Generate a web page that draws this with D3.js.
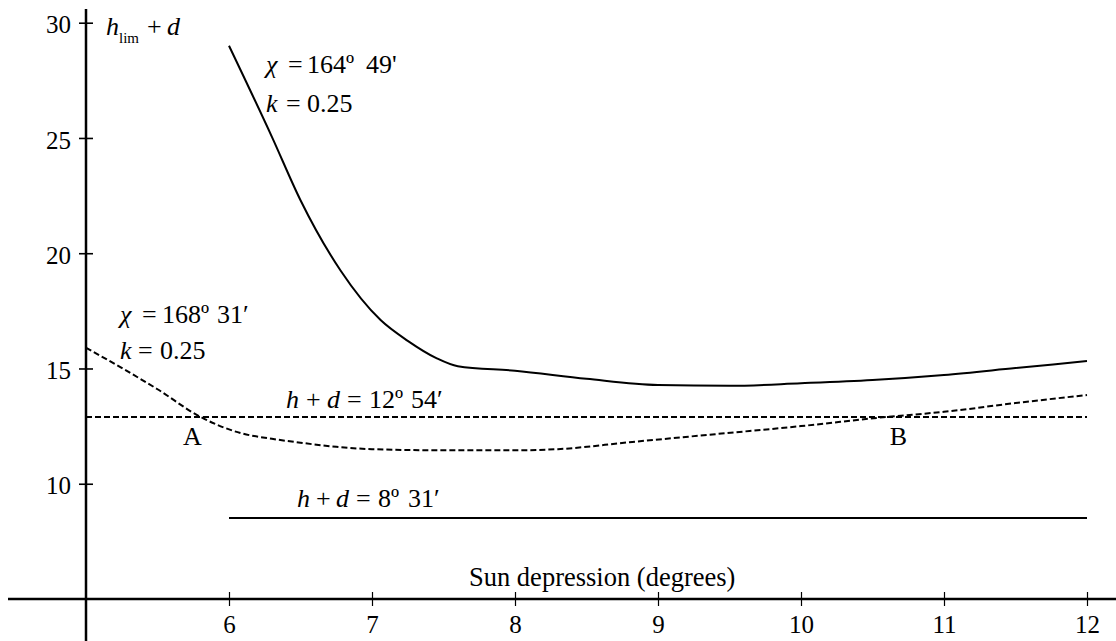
<!DOCTYPE html>
<html>
<head>
<meta charset="utf-8">
<script src="https://cdn.jsdelivr.net/npm/d3@7"></script>
<style>
  html, body { margin: 0; padding: 0; background: #fff; }
  svg { display: block; font-family: "Liberation Serif", "Times New Roman", serif; }
  text, tspan { font-family: "Liberation Serif", "Times New Roman", serif; fill: #000; }
</style>
</head>
<body>
<svg id="chart" width="1116" height="641"></svg>
<script>
// ---- Data ----
const xTicks = [6, 7, 8, 9, 10, 11, 12];
const yTicks = [10, 15, 20, 25, 30];

// chi = 164°49', k = 0.25 (solid curve)
const curve1X = [6.0, 6.3, 6.5, 6.78, 7.06, 7.25, 7.45, 7.6, 8.0, 8.5, 9.0, 9.5, 10.0, 10.5, 11.0, 11.5, 12.0];
const curve1Y = [29.0, 25.05, 22.3, 19.25, 17.1, 16.2, 15.45, 15.1, 14.9, 14.55, 14.28, 14.25, 14.36, 14.5, 14.72, 15.02, 15.32];

// chi = 168°31', k = 0.25 (dashed curve)
const curve2X = [5.0, 5.27, 5.5, 5.8, 6.08, 6.3, 6.5, 6.75, 7.0, 7.5, 8.0, 8.3, 8.8, 9.4, 10.0, 10.6, 11.0, 11.5, 12.0];
const curve2Y = [15.9, 14.95, 14.1, 12.9, 12.2, 11.95, 11.78, 11.6, 11.5, 11.45, 11.45, 11.5, 11.8, 12.15, 12.5, 12.9, 13.12, 13.5, 13.85];

// horizontal reference levels
const level1X = [5, 12];            // h + d = 12°54'
const level1Y = [12.9, 12.9];
const level2X = [6, 12];            // h + d = 8°31'
const level2Y = [8.517, 8.517];

// ---- Scales ----
const svg = d3.select("#chart");
const x = d3.scaleLinear().domain([5, 12]).range([86, 1087]);
const y = d3.scaleLinear().domain([5, 30]).range([599, 22.7]);

const line = d3.line().x(d => x(d[0])).y(d => y(d[1])).curve(d3.curveMonotoneX);
const straight = d3.line().x(d => x(d[0])).y(d => y(d[1]));
const zip = (a, b) => a.map((v, i) => [v, b[i]]);

const FONT = "Liberation Serif";

// ---- Axes ----
svg.append("line").attr("x1", 8).attr("x2", 1116).attr("y1", y(5)).attr("y2", y(5))
  .attr("stroke", "#000").attr("stroke-width", 2.5);
svg.append("line").attr("x1", x(5)).attr("x2", x(5)).attr("y1", 9).attr("y2", 641)
  .attr("stroke", "#000").attr("stroke-width", 2.5);

const xAxisG = svg.append("g").attr("transform", `translate(0,${y(5)})`);
xAxisG.call(d3.axisBottom(x).tickValues(xTicks).tickSize(0).tickPadding(0).tickFormat(d3.format("d")));
xAxisG.attr("font-family", FONT).attr("font-size", 25);
xAxisG.select(".domain").remove();
xAxisG.selectAll(".tick text").attr("y", 34).attr("dy", 0).attr("font-family", FONT).attr("font-size", 25);
xAxisG.selectAll(".tick").append("line").attr("y1", -7).attr("y2", 7)
  .attr("stroke", "#000").attr("stroke-width", 1.2);

const yAxisG = svg.append("g").attr("transform", `translate(${x(5)},0)`);
yAxisG.call(d3.axisLeft(y).tickValues(yTicks).tickSize(0).tickPadding(15).tickFormat(d3.format("d")));
yAxisG.attr("font-family", FONT).attr("font-size", 25);
yAxisG.select(".domain").remove();
yAxisG.selectAll(".tick text").attr("dy", "0.41em").attr("font-family", FONT).attr("font-size", 25);
yAxisG.selectAll(".tick").append("line").attr("x1", -7).attr("x2", 7)
  .attr("stroke", "#000").attr("stroke-width", 1.6);

// ---- Lines ----
svg.append("path").datum(zip(curve1X, curve1Y)).attr("d", line)
  .attr("fill", "none").attr("stroke", "#000").attr("stroke-width", 2);
svg.append("path").datum(zip(curve2X, curve2Y)).attr("d", line)
  .attr("fill", "none").attr("stroke", "#000").attr("stroke-width", 2)
  .attr("stroke-dasharray", "6,3");
svg.append("path").datum(zip(level1X, level1Y)).attr("d", straight)
  .attr("fill", "none").attr("stroke", "#000").attr("stroke-width", 2)
  .attr("stroke-dasharray", "6,3");
svg.append("path").datum(zip(level2X, level2Y)).attr("d", straight)
  .attr("fill", "none").attr("stroke", "#000").attr("stroke-width", 2);

// ---- Text annotations (pieces placed like typeset math) ----
function label(py, parts, size) {
  const t = svg.append("text").attr("y", py).attr("font-family", FONT).attr("font-size", size || 25);
  parts.forEach(p => {
    const s = t.append("tspan").attr("x", p.x).text(p.t);
    if (p.i) s.attr("font-style", "italic");
    if (p.fs) s.attr("font-size", p.fs);
    if (p.y) s.attr("y", p.y);
  });
  return t;
}

// y axis title
label(35, [{x: 106, t: "h", i: true}, {x: 119, t: "lim", fs: 15, y: 43},
           {x: 147, t: "+", y: 35}, {x: 167, t: "d", i: true, y: 35}], 26);

// curve labels
label(73, [{x: 266, t: "χ", i: true}, {x: 288, t: "="}, {x: 307, t: "164º"}, {x: 366, t: "49'"}], 26);
label(112, [{x: 266, t: "k", i: true}, {x: 286, t: "="}, {x: 307, t: "0.25"}], 26);
label(323, [{x: 120, t: "χ", i: true}, {x: 142, t: "="}, {x: 162, t: "168º"}, {x: 217, t: "31′"}], 26);
label(359, [{x: 120, t: "k", i: true}, {x: 138, t: "="}, {x: 160, t: "0.25"}], 26);

label(408, [{x: 286, t: "h", i: true}, {x: 306, t: "+"}, {x: 327, t: "d", i: true}, {x: 347, t: "="},
            {x: 369, t: "12º"}, {x: 411, t: "54′"}], 26);
label(507, [{x: 297, t: "h", i: true}, {x: 316, t: "+"}, {x: 336, t: "d", i: true}, {x: 356, t: "="},
            {x: 378, t: "8º"}, {x: 408, t: "31′"}], 26);

svg.append("text").attr("x", 192.5).attr("y", 445).attr("text-anchor", "middle")
  .attr("font-family", FONT).attr("font-size", 26).text("A");
svg.append("text").attr("x", 898.5).attr("y", 445).attr("text-anchor", "middle")
  .attr("font-family", FONT).attr("font-size", 26).text("B");

svg.append("text").attr("x", 469).attr("y", 586)
  .attr("font-family", FONT).attr("font-size", 26.5).text("Sun depression (degrees)");
</script>
</body>
</html>
